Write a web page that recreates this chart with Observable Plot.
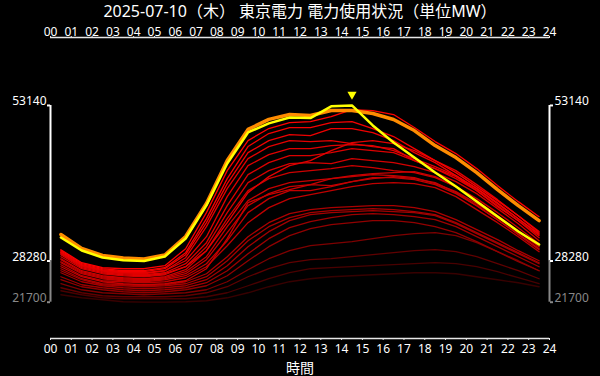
<!DOCTYPE html>
<html><head><meta charset="utf-8">
<script src="https://cdn.jsdelivr.net/npm/d3@7"></script>
<script src="https://cdn.jsdelivr.net/npm/@observablehq/plot@0.6"></script>
<style>
html,body{margin:0;padding:0;background:#000;}
#wrap{position:relative;width:600px;height:376px;}
#title{position:absolute;left:0;top:0;width:600px;height:22px;line-height:22px;text-align:center;color:#fff;font-size:16px;font-family:"Noto Sans","Noto Sans CJK JP",sans-serif;white-space:nowrap;z-index:2;}
#chart svg{display:block;}
</style></head><body>
<div id="wrap">
<div id="title"></div>
<div id="chart"></div>
</div>
<script>
const titleText = "2025-07-10（木） 東京電力 電力使用状況（単位MW）";
const xLabel = "時間";
const tickHours = [0,1,2,3,4,5,6,7,8,9,10,11,12,13,14,15,16,17,18,19,20,21,22,23,24];

// today (yellow) and previous-day comparison (orange), hourly MW
const today   = [32040,29960,28850,28420,28280,29000,31880,37160,43870,48830,50270,51220,51130,53000,53140,49950,47230,44830,42430,40200,37800,35400,33000,30920];
const prevDay = [32520,30280,29170,28770,28610,29250,32200,37480,44350,49310,50910,51700,51540,52340,52340,51860,50890,49130,46730,44810,42410,39690,37130,34730];

// past days (red), hourly MW
const p01 = [30090,28010,27210,27050,27050,27530,30250,36010,42730,47530,49450,50410,50570,51370,52490,52330,51690,49610,47370,45450,43050,40330,37770,35370];
const p02 = [29930,27850,27050,26730,26730,27210,29610,35050,41450,46570,48650,49610,49610,50410,50570,49450,48170,46250,44330,42410,40170,37930,35530,33010];
const p03 = [29770,27690,26890,26570,26570,27050,29290,34410,40650,45610,47530,48490,48330,49450,49450,48810,47530,45610,44010,41930,39850,37450,35050,32650];
const p04 = [29610,27530,26730,26410,26410,26730,28810,33770,39850,44650,46570,47530,47370,47530,47050,46570,46250,44330,43050,41770,39530,36970,34730,32330];
const p05 = [29610,27530,26730,26410,26250,26730,28330,32170,38570,43530,45290,46250,46250,46730,46890,46730,45930,44650,43370,41930,39850,37610,35050,32490];
const p06 = [29450,27370,26570,26250,26090,26410,27850,31210,37130,42090,44010,45130,45130,45610,46250,45930,45610,44330,43050,41450,39530,37130,34730,32010];
const p07 = [29290,27210,26410,26090,25930,26250,27370,29930,34410,39210,41770,43530,44330,45930,47210,47530,47050,45930,44330,42730,40490,38090,35530,32810];
const p08 = [28970,27050,26250,25930,25770,26090,27370,30570,36010,40810,42730,43850,44010,43850,44650,44330,44010,43370,42410,40970,39050,36650,34250,31530];
const p09 = [28650,26730,25930,25610,25450,25770,26890,29930,35050,39530,41450,42410,42730,43050,43530,43210,42730,42410,41610,40170,38250,36010,33610,31050];
const p10 = [28490,26570,25770,25450,25290,25610,26570,28970,33770,37930,39850,40810,41130,41450,41770,42090,41930,41610,40650,39370,37450,35210,32970,30570];
const p11 = [28170,26410,25610,25290,25130,25450,26250,28490,32810,37130,39050,40170,40490,40330,40970,41610,41610,41290,40490,39050,37130,34890,32490,30090];
const p12 = [28010,26250,25450,25130,24970,25290,25930,27850,31530,36010,38250,39530,39530,40170,40970,41450,41770,41450,40810,39210,37130,34890,32650,30250];
const p13 = [27690,25930,25130,24970,24810,24970,25610,27370,30730,34410,36810,38250,38890,39530,40170,40650,40810,40650,40010,38570,36490,34410,32170,29770];
const p14 = [27370,25770,24970,24650,24490,24650,25130,27050,31850,37610,38890,39690,40490,41450,41930,42250,42410,42570,41770,40170,37930,35530,33130,30570];
const p15 = [27050,25450,24650,24490,24330,24490,24970,26250,28970,32170,34410,35850,36490,36810,36970,37130,37130,36810,36170,34890,33290,31690,29930,28330];
const p16 = [26730,25290,24490,24330,24170,24330,24650,25770,28330,31530,33770,35210,36010,36330,36490,36650,36490,36170,35690,34410,32810,31210,29610,28010];
const p17 = [26410,24970,24330,24010,23850,24010,24330,25290,27530,30570,32970,34730,35690,36010,36170,36330,36170,36010,35530,34250,32650,31050,29450,27850];
const p18 = [25770,24490,24010,23690,23530,23690,24010,24810,26730,29450,31850,33610,34570,35210,35690,35850,35690,35370,34890,33770,32170,30570,28970,27370];
const p19 = [25290,24170,23690,23370,23210,23370,23690,24330,25930,28330,30570,32330,33450,34090,34410,34730,34730,34410,33770,32810,31370,29770,28170,26730];
const p20 = [24650,23690,23210,23050,22890,23050,23210,23690,24970,26890,28650,29930,30730,31050,31370,31850,32330,32650,32810,32330,31210,29770,28330,26730];
const p21 = [24010,23210,22730,22570,22570,22570,22730,23210,24170,25770,27050,28010,28490,28650,28970,29290,29610,29930,30090,29770,28970,27850,26730,25450];
const p22 = [23530,22890,22410,22250,22250,22250,22250,22570,23210,24330,25450,26410,27050,27210,27370,27530,27690,27850,28010,27850,27370,26570,25610,24650];
const p23 = [22890,22410,22090,21770,21700,21700,21770,21930,22410,23210,24170,24970,25450,25770,25930,26090,26250,26410,26410,26250,25770,25290,24810,24170];

const pastList = [p01,p02,p03,p04,p05,p06,p07,p08,p09,p10,p11,p12,p13,p14,p15,p16,p17,p18,p19,p20,p21,p22,p23];

document.getElementById("title").textContent = titleText;

// build tables
const pastSorted = d3.sort(pastList.map((s, k) => ({k, s, peak: d3.max(s)})), d => d.peak);
const pastRows = pastSorted.flatMap(({k, s, peak}) => s.map((v, i) => ({day: k, hour: i, value: v, peak})));
const todayRows = today.map((v, i) => ({hour: i, value: v}));
const prevRows = prevDay.map((v, i) => ({hour: i, value: v}));

const todayMax = d3.max(today), todayMin = d3.min(today);
const allMin = d3.min([...today, ...prevDay, ...pastList.flat()]);
const peakIdx = d3.maxIndex(today);
const peaks = pastList.map(s => d3.max(s));
const pLo = d3.min(peaks), pHi = d3.max(peaks);

const W = 600, H = 376, MT = 37, MB = 38, ML = 50, MR = 51;
const yDomain = [15900, 64000];
const xDomain = [tickHours[0], tickHours[tickHours.length - 1]];
const pad2 = d => String(d).padStart(2, "0");
const font = "'Noto Sans CJK JP', sans-serif";
const numFont = "'Noto Sans', sans-serif";

const chart = Plot.plot({
  width: W, height: H,
  marginTop: MT, marginBottom: MB, marginLeft: ML, marginRight: MR,
  style: {background: "#000", color: "#fff", fontFamily: font},
  x: {domain: xDomain},
  y: {domain: yDomain},
  color: {type: "linear", domain: [pLo, pLo + (pHi - pLo) * 0.4, pHi], range: ["#380000", "#a80000", "#ff0000"]},
  marks: [
    // past days
    Plot.line(pastRows, {x: d => d.hour + 0.5, y: "value", z: "day", stroke: "peak", strokeWidth: 1.3}),
    // previous day
    Plot.line(prevRows, {x: d => d.hour + 0.5, y: "value", stroke: "#ff8c00", strokeWidth: 3.5}),
    // today
    Plot.line(todayRows, {x: d => d.hour + 0.5, y: "value", stroke: "#ffff00", strokeWidth: 2.5}),
    Plot.dot([peakIdx], {x: i => i + 0.5, y: i => today[i], symbol: "triangle", rotate: 180, r: 3.4, fill: "#ffff00", stroke: null, dy: -11}),
    // frame lines top & bottom
    Plot.ruleY([yDomain[1], yDomain[0]], {stroke: "#e6e6e6", strokeWidth: 1.5}),
    // y axis lines left & right
    Plot.ruleX(xDomain, {x: d => d, y1: todayMin, y2: todayMax, stroke: "#fff", strokeWidth: 2}),
    Plot.ruleX(xDomain, {x: d => d, y1: allMin, y2: todayMin, stroke: "#888", strokeWidth: 2}),
    // x axes
    Plot.axisX(tickHours, {anchor: "top", tickSize: 2, tickPadding: 0, tickFormat: pad2, fontSize: 12, fontFamily: numFont, color: "#e6e6e6", fill: "#fff", label: null}),
    Plot.axisX(tickHours, {anchor: "bottom", tickSize: 2, tickPadding: 3.5, tickFormat: pad2, fontSize: 12, fontFamily: numFont, color: "#e6e6e6", fill: "#fff", label: null}),
    // y axes
    Plot.axisY([todayMax, todayMin], {anchor: "left", tickSize: 3, tickPadding: 1, strokeWidth: 2, fontSize: 12, fontFamily: numFont, color: "#fff", lineAnchor: "bottom", tickFormat: d => String(d), label: null}),
    Plot.axisY([allMin], {anchor: "left", tickSize: 3, tickPadding: 1, strokeWidth: 2, fontSize: 12, fontFamily: numFont, color: "#888", lineAnchor: "bottom", tickFormat: d => String(d), label: null}),
    Plot.axisY([todayMax, todayMin], {anchor: "right", tickSize: 3, tickPadding: 2, strokeWidth: 2, fontSize: 12, fontFamily: numFont, color: "#fff", lineAnchor: "bottom", tickFormat: d => String(d), label: null}),
    Plot.axisY([allMin], {anchor: "right", tickSize: 3, tickPadding: 2, strokeWidth: 2, fontSize: 12, fontFamily: numFont, color: "#888", lineAnchor: "bottom", tickFormat: d => String(d), label: null}),
    // x label
    Plot.text([xLabel], {text: d => d, frameAnchor: "bottom", lineAnchor: "bottom", dy: 34, fontSize: 14, fill: "#fff"})
  ]
});
document.getElementById("chart").appendChild(chart);
</script>
</body></html>
